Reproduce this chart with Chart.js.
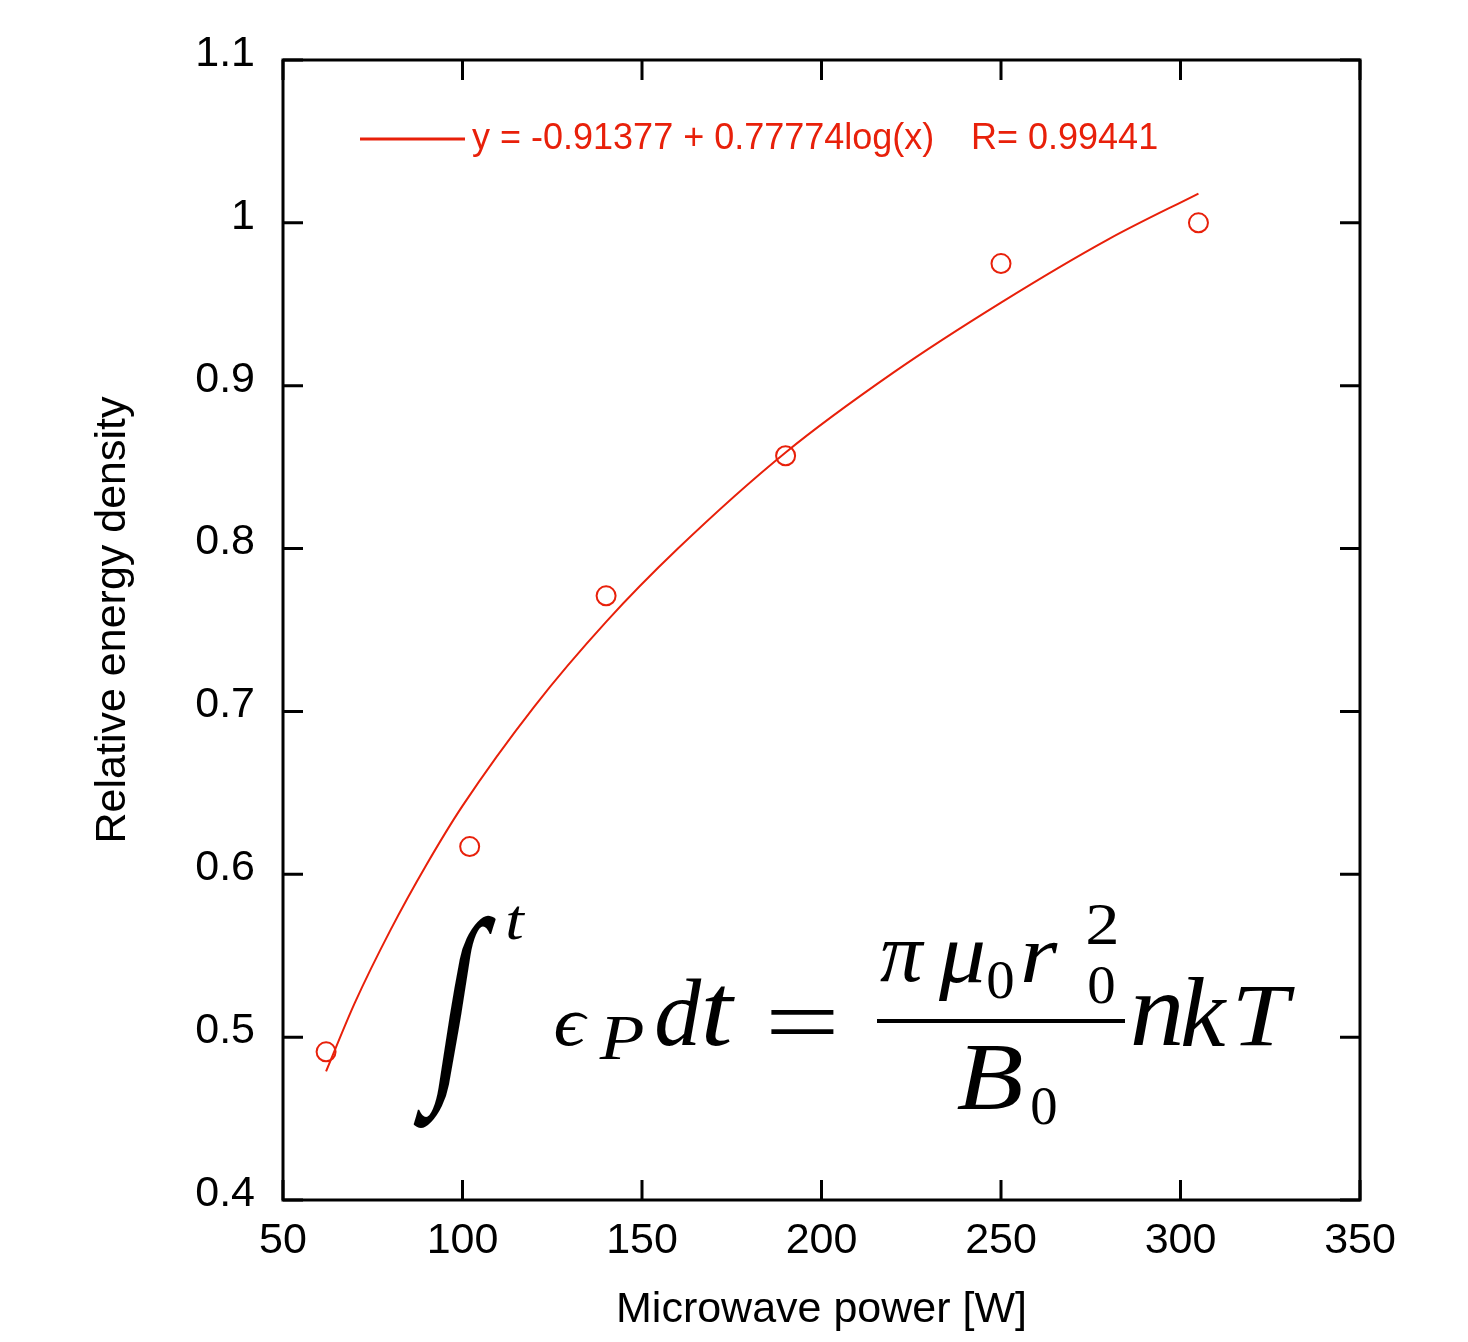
<!DOCTYPE html>
<html>
<head>
<meta charset="utf-8">
<script src="https://cdn.jsdelivr.net/npm/chart.js@4/dist/chart.umd.min.js"></script>
<style>
  html, body { margin: 0; padding: 0; background: #fff; }
  #wrap { width: 1468px; height: 1342px; }
</style>
</head>
<body>
<div id="wrap"><canvas id="c" width="1468" height="1342"></canvas></div>
<script>
// ---- data ----
const powerW = [62, 102, 140, 190, 250, 305];
const relEnergy = [0.491, 0.617, 0.771, 0.857, 0.975, 1.000];

// fitted curve as drawn in the picture
const fitX = [62, 70, 80, 90, 100, 120, 140, 160, 190, 220, 250, 280, 305];
const fitY = [0.479, 0.521, 0.566, 0.606, 0.642, 0.703, 0.755, 0.800, 0.859, 0.908, 0.951, 0.990, 1.018];

const xTicks = [50, 100, 150, 200, 250, 300, 350];
const yTicks = [0.4, 0.5, 0.6, 0.7, 0.8, 0.9, 1.0, 1.1];
const yTickLabels = ['0.4', '0.5', '0.6', '0.7', '0.8', '0.9', '1', '1.1'];
const xTickLabels = ['50', '100', '150', '200', '250', '300', '350'];

const xTitle = 'Microwave power [W]';
const yTitle = 'Relative energy density';
const legendFit = 'y = -0.91377 + 0.77774log(x)';
const legendR = 'R= 0.99441';

const RED = '#e8200a';
const SANS = "'Liberation Sans', Arial, sans-serif";
const IT = "italic 100px 'Liberation Serif', 'DejaVu Serif', serif";
const UP = "100px 'Liberation Serif', 'DejaVu Serif', serif";

// equation glyphs: text, font, ink box [x0, x1, y0, y1], fit mode
const eqGlyphs = [
  ['\u222B', UP, [412, 497, 914, 1128], 'skew'],
  ['t', IT, [506, 527, 907, 940], 'u'],
  ['\u03F5', IT, [555, 588, 1012, 1046], 'u'],
  ['P', IT, [595, 647, 1018, 1060], 'u'],
  ['d', IT, [657, 702, 980, 1046], 'u'],
  ['t', IT, [705, 735, 987, 1046], 'u'],
  ['=', UP, [770, 834, 1010, 1034], 'fit'],
  ['\u03C0', IT, [880, 925, 942, 982], 'u'],
  ['\u03BC', IT, [938, 983, 942, 1000], 'u'],
  ['0', UP, [988, 1013, 962, 999], 'u'],
  ['r', IT, [1022, 1060, 942, 982], 'u'],
  ['2', UP, [1087, 1117, 905, 945], 'u'],
  ['0', UP, [1089, 1114, 967, 1004], 'u'],
  ['B', IT, [948, 1030, 1047, 1110], 'u'],
  ['0', UP, [1032, 1056, 1088, 1125], 'u'],
  ['n', IT, [1133, 1180, 995, 1046], 'u'],
  ['k', IT, [1182, 1227, 978, 1046], 'u'],
  ['T', IT, [1223, 1310, 987, 1046], 'u']
];

function fitGlyph(ctx, txt, font, box, mode) {
  const [x0, x1, y0, y1] = box;
  ctx.save();
  ctx.font = font;
  ctx.textBaseline = 'alphabetic';
  ctx.textAlign = 'left';
  ctx.fillStyle = '#000';
  const m = ctx.measureText(txt);
  const inkL = -m.actualBoundingBoxLeft, inkR = m.actualBoundingBoxRight;
  const inkT = -m.actualBoundingBoxAscent, inkB = m.actualBoundingBoxDescent;
  const inkW = inkR - inkL, inkH = inkB - inkT;
  const icx = (inkL + inkR) / 2, icy = (inkT + inkB) / 2;
  const cx = (x0 + x1) / 2, cy = (y0 + y1) / 2;
  const sy = (y1 - y0) / inkH;
  if (mode === 'fit') {
    const sx = (x1 - x0) / inkW;
    ctx.translate(cx, cy);
    ctx.scale(sx, sy);
  } else if (mode === 'skew') {
    const k = 0.6;
    const w = inkW * sy * k;
    const shear = ((x1 - x0) - w) / (y1 - y0);
    ctx.translate(cx, cy);
    ctx.transform(1, 0, -shear, 1, 0, 0);
    ctx.scale(sy * k, sy);
  } else {
    let sx = (x1 - x0) / inkW;
    sx = Math.max(sy * 0.9, Math.min(sx, sy * 1.15));
    ctx.translate(cx, cy);
    ctx.scale(sx, sy);
  }
  ctx.fillText(txt, -icx, -icy);
  ctx.restore();
}

const decorations = {
  id: 'decorations',
  afterDatasetsDraw(chart) {
    const ctx = chart.ctx;
    const {left, right, top, bottom} = chart.chartArea;
    const xs = chart.scales.x, ys = chart.scales.y;
    ctx.save();
    ctx.strokeStyle = '#000';
    ctx.lineWidth = 3;
    ctx.beginPath();
    xTicks.forEach(v => {
      const px = xs.getPixelForValue(v);
      ctx.moveTo(px, bottom); ctx.lineTo(px, bottom - 20);
      ctx.moveTo(px, top); ctx.lineTo(px, top + 20);
    });
    yTicks.forEach(v => {
      const py = ys.getPixelForValue(v);
      ctx.moveTo(left, py); ctx.lineTo(left + 20, py);
      ctx.moveTo(right, py); ctx.lineTo(right - 20, py);
    });
    ctx.stroke();
    ctx.strokeRect(left, top, right - left, bottom - top);

    // legend
    ctx.strokeStyle = RED;
    ctx.lineWidth = 3;
    ctx.beginPath();
    ctx.moveTo(360, 139); ctx.lineTo(465, 139);
    ctx.stroke();
    ctx.fillStyle = RED;
    ctx.font = '36px ' + SANS;
    ctx.textBaseline = 'alphabetic';
    ctx.textAlign = 'left';
    ctx.fillText(legendFit, 472, 149);
    ctx.fillText(legendR, 971, 149);

    // y title
    ctx.save();
    ctx.translate(111, 620);
    ctx.rotate(-Math.PI / 2);
    ctx.fillStyle = '#000';
    ctx.font = '43px ' + SANS;
    ctx.textAlign = 'center';
    ctx.textBaseline = 'alphabetic';
    ctx.fillText(yTitle, 0, 14);
    ctx.restore();

    // equation
    eqGlyphs.forEach(g => fitGlyph(ctx, g[0], g[1], g[2], g[3]));
    ctx.fillStyle = '#000';
    ctx.fillRect(877, 1019, 248, 4);
    ctx.restore();
  }
};

new Chart(document.getElementById('c'), {
  type: 'scatter',
  data: {
    datasets: [
      {
        label: 'fit',
        data: fitX.map((x, i) => ({x: x, y: fitY[i]})),
        showLine: true,
        borderColor: RED,
        backgroundColor: RED,
        borderWidth: 2,
        pointRadius: 0,
        cubicInterpolationMode: 'monotone'
      },
      {
        label: 'measured',
        data: powerW.map((x, i) => ({x: x, y: relEnergy[i]})),
        showLine: false,
        borderColor: RED,
        backgroundColor: 'rgba(0,0,0,0)',
        borderWidth: 2,
        pointRadius: 9.5,
        pointStyle: 'circle'
      }
    ]
  },
  options: {
    responsive: false,
    animation: false,
    devicePixelRatio: 1,
    layout: { padding: { left: 0, top: 60, right: 108, bottom: 0 } },
    plugins: { legend: { display: false }, tooltip: { enabled: false } },
    scales: {
      x: {
        type: 'linear',
        min: 50, max: 350,
        afterBuildTicks: s => { s.ticks = xTicks.map(v => ({value: v})); },
        afterFit: s => { s.height = 142; },
        grid: { display: false, drawTicks: false },
        border: { display: false },
        ticks: {
          color: '#000',
          font: { family: SANS, size: 43 },
          padding: 15,
          maxRotation: 0,
          callback: (v) => { const i = xTicks.indexOf(v); return i >= 0 ? xTickLabels[i] : ''; }
        },
        title: {
          display: true,
          text: xTitle,
          color: '#000',
          font: { family: SANS, size: 43 },
          padding: { top: 0, bottom: 6 }
        }
      },
      y: {
        type: 'linear',
        min: 0.4, max: 1.1,
        afterBuildTicks: s => { s.ticks = yTicks.map(v => ({value: v})); },
        afterFit: s => { s.width = 283; },
        grid: { display: false, drawTicks: false },
        border: { display: false },
        ticks: {
          color: '#000',
          font: { family: SANS, size: 43 },
          padding: 28,
          labelOffset: -6,
          callback: (v) => {
            const i = yTicks.findIndex(t => Math.abs(t - v) < 1e-9);
            return i >= 0 ? yTickLabels[i] : '';
          }
        }
      }
    }
  },
  plugins: [decorations]
});
</script>
</body>
</html>
